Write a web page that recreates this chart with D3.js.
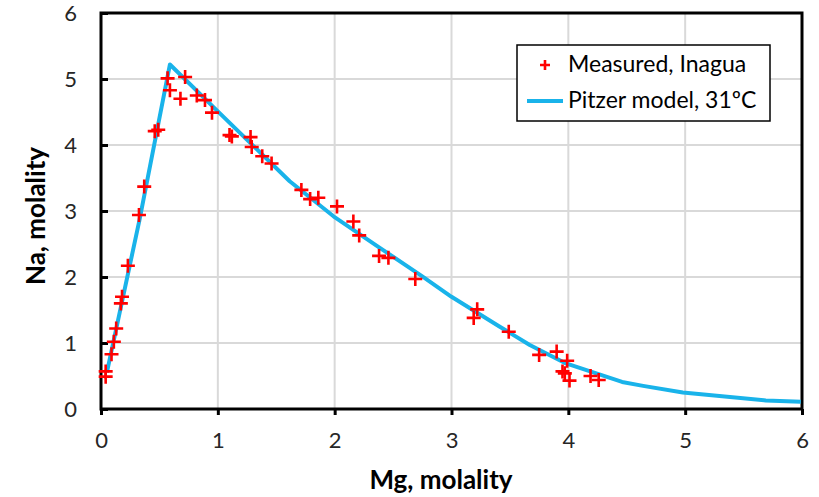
<!DOCTYPE html>
<html><head><meta charset="utf-8">
<script src="https://cdn.jsdelivr.net/npm/d3@7"></script>
<style>body{margin:0;background:#fff}svg{display:block}text{font-family:Lato,"Open Sans",sans-serif}</style>
</head><body>
<svg id="chart" width="819" height="497"></svg>
<script>
// Measured, Inagua
const measuredMg = [0.04,0.04,0.09,0.11,0.13,0.17,0.18,0.23,0.325,0.37,0.46,0.49,0.57,0.59,0.68,0.72,0.82,0.89,0.95,1.10,1.12,1.28,1.29,1.38,1.46,1.715,1.79,1.86,2.02,2.16,2.21,2.38,2.46,2.69,3.19,3.22,3.49,3.75,3.90,3.95,3.97,3.99,4.01,4.19,4.26];
const measuredNa = [0.57,0.49,0.83,1.02,1.22,1.60,1.70,2.17,2.94,3.37,4.21,4.23,5.01,4.83,4.70,5.03,4.75,4.68,4.49,4.15,4.13,4.12,3.97,3.83,3.72,3.32,3.18,3.20,3.07,2.84,2.63,2.32,2.29,1.97,1.38,1.51,1.17,0.82,0.87,0.57,0.54,0.73,0.43,0.50,0.44];
// Pitzer model, 31ºC
const modelMg = [0.05,0.33,0.59,1.0,1.615,1.99,2.38,2.75,3.0,3.41,3.67,3.98,4.46,4.64,4.98,5.69,5.99];
const modelNa = [0.55,2.87,5.22,4.51,3.45,2.92,2.45,2.01,1.70,1.25,0.97,0.69,0.41,0.35,0.25,0.13,0.11];
const xTicks = [0,1,2,3,4,5,6];
const yTicks = [0,1,2,3,4,5,6];
const legendLabels = ["Measured, Inagua","Pitzer model, 31ºC"];
const xTitle = "Mg, molality", yTitle = "Na, molality";

const svg = d3.select("#chart");
const L=101, R=802, T=13, B=409;
const x = d3.scaleLinear().domain([0,6]).range([L,R]);
const y = d3.scaleLinear().domain([0,6]).range([B,T]);
const RED="#ff0000", BLUE="#19b3ea";

// grid
svg.append("g").selectAll("line").data(xTicks.slice(1,-1)).join("line")
  .attr("x1",d=>x(d)).attr("x2",d=>x(d)).attr("y1",T).attr("y2",B)
  .attr("stroke","#d9d9d9").attr("stroke-width",2);
svg.append("g").selectAll("line").data(yTicks.slice(1,-1)).join("line")
  .attr("y1",d=>y(d)).attr("y2",d=>y(d)).attr("x1",L).attr("x2",R)
  .attr("stroke","#d9d9d9").attr("stroke-width",2);

// axes
const xAxis = svg.append("g").attr("transform",`translate(0,${B})`)
  .call(d3.axisBottom(x).tickValues(xTicks).tickSize(6).tickFormat(d3.format("d")));
const yAxis = svg.append("g").attr("transform",`translate(${L},0)`)
  .call(d3.axisLeft(y).tickValues(yTicks).tickSize(-7).tickFormat(d3.format("d")));
[xAxis,yAxis].forEach(g=>{
  g.select(".domain").remove();
  g.selectAll(".tick line").attr("stroke","#000").attr("stroke-width",3);
  g.selectAll(".tick text").attr("font-size",22).attr("fill","#262626")
   .attr("font-family","Lato,'Open Sans',sans-serif");
});
xAxis.selectAll(".tick text").attr("dy",null).attr("y",39);
yAxis.selectAll(".tick text").attr("x",-24).attr("dy","0.35em");

// frame
svg.append("rect").attr("x",L).attr("y",T).attr("width",R-L).attr("height",B-T)
  .attr("fill","none").attr("stroke","#000").attr("stroke-width",3);

// model line
const model = modelMg.map((m,i)=>[m,modelNa[i]]);
svg.append("path").datum(model)
  .attr("d",d3.line().x(d=>x(d[0])).y(d=>y(d[1])))
  .attr("fill","none").attr("stroke",BLUE).attr("stroke-width",4).attr("stroke-linejoin","round");

// measured points
const plus = (g,s)=>{ g.append("path").attr("d",`M${-s},0H${s}M0,${-s}V${s}`)
  .attr("stroke",RED).attr("stroke-width",2.6).attr("fill","none"); };
measuredMg.forEach((m,i)=>{
  const g = svg.append("g").attr("transform",`translate(${x(m)},${y(measuredNa[i])})`);
  plus(g,7);
});

// legend
const lg = svg.append("g");
lg.append("rect").attr("x",517).attr("y",45).attr("width",253).attr("height",76)
  .attr("fill","#fff").attr("stroke","#000").attr("stroke-width",1.5);
plus(lg.append("g").attr("transform","translate(545,65)"),5);
lg.append("line").attr("x1",527).attr("x2",563).attr("y1",101).attr("y2",101)
  .attr("stroke",BLUE).attr("stroke-width",4);
lg.selectAll("text").data(legendLabels).join("text")
  .attr("x",568).attr("y",(d,i)=>72+i*36).attr("font-size",23).attr("fill","#000").text(d=>d);

// titles
svg.append("text").attr("x",441).attr("y",489).attr("text-anchor","middle")
  .attr("font-size",26).attr("font-weight","bold").attr("fill","#000").text(xTitle);
svg.append("text").attr("transform","translate(45,216) rotate(-90)").attr("text-anchor","middle")
  .attr("font-size",26).attr("font-weight","bold").attr("fill","#000").text(yTitle);
</script>
</body></html>
